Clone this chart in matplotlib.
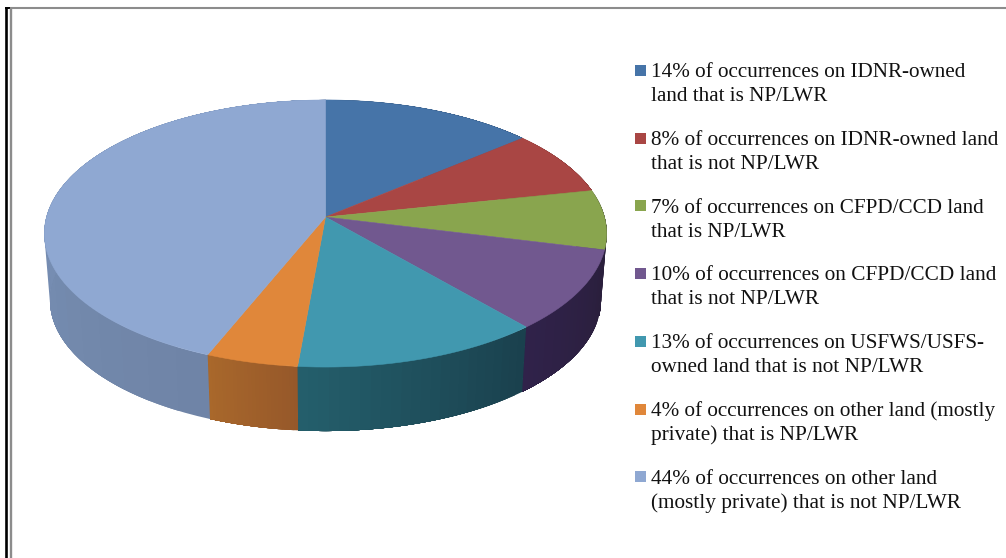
import numpy as np
import matplotlib
matplotlib.use('Agg')
import matplotlib.pyplot as plt
from matplotlib.colors import to_rgb
from matplotlib.patches import Rectangle

# slice sizes measured on the drawing, the legend text gives them rounded
shares = [13.8, 7.9, 7.2, 9.8, 12.7, 4.7, 43.9]

legend_lines = [
    ['14% of occurrences on IDNR-owned', 'land that is NP/LWR'],
    ['8% of occurrences on IDNR-owned land', 'that is not NP/LWR'],
    ['7% of occurrences on CFPD/CCD land', 'that is NP/LWR'],
    ['10% of occurrences on CFPD/CCD land', 'that is not NP/LWR'],
    ['13% of occurrences on USFWS/USFS-', 'owned land that is not NP/LWR'],
    ['4% of occurrences on other land (mostly', 'private) that is NP/LWR'],
    ['44% of occurrences on other land', '(mostly private) that is not NP/LWR'],
]
# right end of each legend line in the picture (text is justified there)
line_right = [
    [964, 827], [998, 818], [984, 785], [995, 818],
    [983, 922], [994, 857], [936, 960],
]

top_colors = ['#4674a8', '#a94644', '#89a54e', '#71588f', '#4198af', '#e0873a', '#8fa8d2']
# colours of the outer wall, at the start and end of each slice
wall_start = ['#2c4a6e', '#6e2d2c', '#2a1f3c', '#2a1f3c', '#1a404d', '#96582a', '#6f84a6']
wall_end = ['#2c4a6e', '#6e2d2c', '#2a1f3c', '#30224a', '#245f6c', '#a9682b', '#7f99c2']

# pie placement in pixels
cx, cy = 325.5, 217
rx, ry = 279, 131.5
tilt = 0.1236  # perspective, the back of the pie is smaller
depth = 67
bottom_scale = 0.98


def project(theta, scale=1.0, drop=0.0):
    # theta is clockwise from the top of the pie
    x = np.sin(theta)
    y = np.cos(theta)
    den = 1 + tilt * y
    return cx + scale * rx * x / den, cy + drop - scale * ry * y / den


fig = plt.figure(figsize=(10.06, 5.58), dpi=100)
ax = fig.add_axes([0, 0, 1, 1])
ax.set_xlim(0, 1006)
ax.set_ylim(558, 0)
ax.axis('off')

edges = np.cumsum([0] + shares) / sum(shares) * 2 * np.pi

# outer wall first, later strips paint over the earlier ones so no seams show
for i in range(len(shares)):
    steps = 24
    angles = np.linspace(edges[i], edges[i + 1], steps + 1)
    c0 = np.array(to_rgb(wall_start[i]))
    c1 = np.array(to_rgb(wall_end[i]))
    for j in range(steps):
        a = np.linspace(angles[j], edges[i + 1], 60)
        xt, yt = project(a)
        xb, yb = project(a, bottom_scale, depth)
        col = c0 + (c1 - c0) * (j + 0.5) / steps
        ax.fill(np.r_[xt, xb[::-1]], np.r_[yt, yb[::-1]], color=col, lw=0, zorder=2)

# top of the pie
for i in range(len(shares)):
    a = np.linspace(edges[i], edges[i + 1], 120)
    x, y = project(a)
    ax.fill(np.r_[cx, x], np.r_[cy, y], color=top_colors[i], lw=0.4, zorder=3)

# legend
for i, lines in enumerate(legend_lines):
    base = 77 + 67.8 * i
    ax.add_patch(Rectangle((635, base - 12.3), 11, 11, color=top_colors[i], lw=0))
    for k, line in enumerate(lines):
        t = ax.text(651, base + 24 * k, line, family='Liberation Serif', fontsize=14.8,
                    color='#111111', ha='left', va='baseline')
        w = t.get_window_extent(fig.canvas.get_renderer()).width
        t.set_fontsize(14.8 * (line_right[i][k] - 651) / w)

# frame around the page
ax.plot([6, 6], [7, 558], color='black', lw=1.9, solid_capstyle='butt')
ax.plot([5, 11], [8, 8], color='black', lw=1.4, solid_capstyle='butt')
ax.plot([11, 11], [8, 558], color='#8c8c8c', lw=1.7, solid_capstyle='butt')
ax.plot([10, 1006], [8, 8], color='#8c8c8c', lw=1.5, solid_capstyle='butt')

fig.savefig('out.png', dpi=100)
